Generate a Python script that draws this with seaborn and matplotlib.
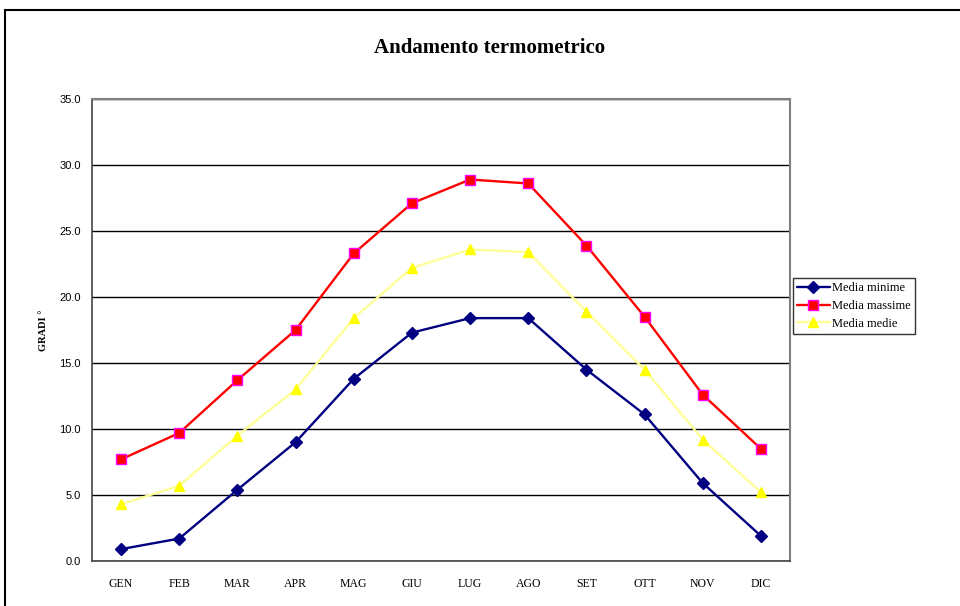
import matplotlib
matplotlib.use("Agg")
import matplotlib.pyplot as plt
import pandas as pd
import seaborn as sns
from matplotlib.patches import Rectangle

# Data
mesi = ["GEN", "FEB", "MAR", "APR", "MAG", "GIU", "LUG", "AGO", "SET", "OTT", "NOV", "DIC"]
media_minime = [0.9, 1.7, 5.4, 9.0, 13.8, 17.3, 18.4, 18.4, 14.5, 11.1, 5.9, 1.9]
media_massime = [7.7, 9.7, 13.7, 17.5, 23.3, 27.1, 28.9, 28.6, 23.9, 18.5, 12.6, 8.5]
media_medie = [4.3, 5.7, 9.5, 13.0, 18.4, 22.2, 23.6, 23.4, 18.9, 14.5, 9.2, 5.2]

sns.set_style("white")
plt.rcParams["font.family"] = ["Liberation Serif", "DejaVu Serif"]
plt.rcParams["text.color"] = "black"
plt.rcParams["axes.labelcolor"] = "black"
plt.rcParams["xtick.labelcolor"] = "black"
plt.rcParams["ytick.labelcolor"] = "black"

fig = plt.figure(figsize=(9.6, 6.06), dpi=100)
ax = fig.add_axes([92 / 960, 1 - 561 / 606, 698 / 960, 462 / 606])

x = list(range(len(mesi)))
series = [
    ("Media minime", media_minime, "#000080", "D", "#000080", "#000080", 6),
    ("Media massime", media_massime, "#FF0000", "s", "#FF0000", "#FF00FF", 7),
    ("Media medie", media_medie, "#FFFF99", "^", "#FFFF00", "#FFFF00", 7),
]
for name, vals, lc, mk, mfc, mec, ms in series:
    df = pd.DataFrame({"x": x, "y": vals})
    sns.lineplot(data=df, x="x", y="y", ax=ax, color=lc, lw=1.7, marker=mk,
                 markersize=ms, markerfacecolor=mfc, markeredgecolor=mec,
                 markeredgewidth=1, label=name)

ax.set_xlim(-0.5, 11.5)
ax.set_ylim(0, 35)
ax.set_yticks([i * 5 for i in range(8)])
ax.set_yticklabels([f"{i * 5:.1f}" for i in range(8)], family="Liberation Sans", fontsize=8)
ax.yaxis.grid(True, color="black", lw=1)
ax.set_axisbelow(True)

ax.set_xticks([i + 0.5 for i in range(-1, 12)])
ax.set_xticklabels([])
ax.set_xticks(x, minor=True)
ax.set_xticklabels(mesi, minor=True, fontsize=8.5)
ax.tick_params(axis="x", which="major", direction="out", length=5, width=1, color="#444444")
ax.tick_params(axis="x", which="minor", length=0, pad=12)
ax.tick_params(axis="y", direction="out", length=4, width=1, color="#444444", pad=4)

for side in ["top", "right"]:
    ax.spines[side].set_color("#808080")
    ax.spines[side].set_linewidth(1.5)
for side in ["left", "bottom"]:
    ax.spines[side].set_color("#444444")
    ax.spines[side].set_linewidth(1.2)

ax.set_xlabel("")
ax.set_ylabel("GRADI °", fontsize=7.5, fontweight="bold", labelpad=8)

leg = ax.legend(loc="center left", bbox_to_anchor=(1.004, 0.552), frameon=True,
                fancybox=False, fontsize=9, borderpad=0.35, handlelength=2.6,
                handletextpad=0.2, labelspacing=0.45, borderaxespad=0)
leg.get_frame().set_edgecolor("black")
leg.get_frame().set_linewidth(1)

fig.text(0.51, 0.921, "Andamento termometrico", ha="center", va="center",
         fontsize=15, fontweight="bold", color="black")

fig.patches.append(Rectangle((5 / 960, -0.01), 1, 1 - 10 / 606 + 0.01,
                             transform=fig.transFigure, fill=False,
                             edgecolor="black", lw=1.5, zorder=10))

fig.savefig("out.png", dpi=100)
